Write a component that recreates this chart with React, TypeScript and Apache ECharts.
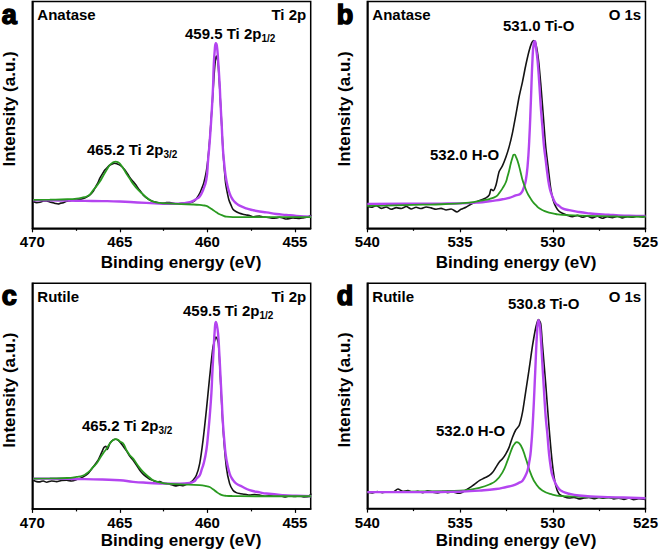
import React, { useEffect, useRef } from "react";
import * as echarts from "echarts";

// ---------- tick labels ----------
const tiTicks = [470, 465, 460, 455];
const tiMinorTicks = [467.5, 462.5, 457.5];
const oTicks = [540, 535, 530, 525];
const oMinorTicks = [537.5, 532.5, 527.5];

// ---------- panel texts ----------
const panelLetters = ["a", "b", "c", "d"];
const phases = ["Anatase", "Anatase", "Rutile", "Rutile"];
const regions = ["Ti 2p", "O 1s", "Ti 2p", "O 1s"];
const xAxisName = "Binding energy (eV)";
const yAxisName = "Intensity (a.u.)";

// ---------- panel a : Anatase Ti 2p ----------
const blackA = [
  [469.94, 11.8], [469.75, 11.3], [469.56, 11.5], [469.37, 12.0], [469.18, 12.1], [469.0, 11.6], [468.8, 11.3], [468.66, 10.9],
  [468.52, 10.7], [468.37, 11.1], [468.23, 11.3], [468.04, 11.9], [467.85, 12.1], [467.66, 12.4], [467.47, 12.5], [467.28, 12.7],
  [467.09, 13.1], [466.9, 13.8], [466.71, 14.7], [466.52, 16.3], [466.43, 17.6], [466.24, 20.3], [466.14, 22.1], [465.95, 24.6],
  [465.86, 25.7], [465.67, 27.2], [465.57, 27.9], [465.4, 28.5], [465.29, 28.7], [465.15, 28.4], [465.0, 27.9], [464.85, 26.9],
  [464.71, 25.7], [464.52, 23.5], [464.43, 22.4], [464.24, 20.6], [464.1, 19.3], [463.95, 17.6], [463.8, 16.1], [463.67, 14.7],
  [463.48, 13.4], [463.29, 12.5], [463.1, 11.8], [462.91, 11.5], [462.72, 11.2], [462.53, 11.0], [462.34, 11.3], [462.15, 11.3],
  [461.96, 11.0], [461.77, 10.7], [461.58, 10.9], [461.39, 11.0], [461.2, 11.1], [461.01, 11.3], [460.82, 11.7], [460.72, 12.2],
  [460.63, 13.0], [460.44, 15.4], [460.34, 17.2], [460.21, 19.9], [460.1, 23.5], [460.02, 27.2], [459.95, 32.0], [459.87, 39.0],
  [459.79, 47.5], [459.71, 56.6], [459.64, 65.0], [459.58, 71.3], [459.52, 75.2], [459.49, 76.0], [459.44, 75.2], [459.39, 72.8],
  [459.33, 66.0], [459.26, 56.6], [459.18, 45.0], [459.11, 34.6], [459.03, 26.0], [458.96, 19.9], [458.86, 15.5], [458.77, 12.5],
  [458.65, 10.2], [458.54, 8.4], [458.35, 7.3], [458.16, 6.6], [457.97, 6.2], [457.78, 5.9], [457.59, 5.6], [457.4, 5.1],
  [457.21, 5.3], [457.02, 5.4], [456.83, 5.0], [456.63, 4.9], [456.44, 4.7], [456.25, 4.4], [456.06, 4.6], [455.87, 4.9],
  [455.68, 4.5], [455.49, 4.1], [455.3, 4.3], [455.11, 4.6], [454.92, 4.4], [454.73, 4.3], [454.54, 4.6], [454.35, 4.9],
  [454.2, 5.2], [454.07, 5.9],
];
const purpleA = [
  [469.94, 12.4], [469.0, 12.3], [468.0, 12.2], [467.0, 12.1], [466.0, 12.0], [465.0, 11.8], [464.0, 11.4], [463.0, 11.0],
  [462.34, 10.8], [461.77, 10.8], [461.39, 11.0], [461.01, 11.5], [460.82, 12.1], [460.63, 12.9], [460.44, 14.0], [460.25, 16.8],
  [460.06, 21.5], [459.96, 30.1], [459.87, 38.0], [459.77, 49.3], [459.68, 62.0], [459.64, 71.3], [459.58, 78.5], [459.52, 81.6],
  [459.46, 80.5], [459.39, 74.3], [459.3, 63.5], [459.26, 56.6], [459.18, 45.0], [459.11, 34.6], [459.02, 27.0], [458.92, 21.3],
  [458.73, 15.4], [458.54, 12.5], [458.35, 11.0], [458.16, 10.0], [457.78, 8.8], [457.4, 8.0], [457.02, 7.4], [456.63, 7.0],
  [456.06, 6.3], [455.49, 5.9], [454.92, 5.5], [454.07, 5.1],
];
const greenA = [
  [469.94, 12.5], [469.0, 12.6], [468.0, 12.8], [467.47, 13.1], [467.1, 13.6], [466.9, 14.0], [466.7, 15.0], [466.52, 16.9],
  [466.33, 18.6], [466.14, 20.6], [465.95, 23.2], [465.76, 25.7], [465.57, 27.9], [465.4, 29.0], [465.23, 29.4], [465.1, 29.1],
  [465.0, 28.5], [464.81, 26.5], [464.62, 24.0], [464.43, 21.8], [464.24, 19.6], [463.95, 16.9], [463.67, 14.9], [463.48, 13.6],
  [463.29, 12.5], [463.1, 11.8], [462.72, 11.2], [462.34, 11.0], [461.5, 10.7], [460.82, 10.5], [460.44, 10.3], [460.25, 10.1],
  [460.06, 9.9], [459.87, 9.1], [459.68, 8.1], [459.49, 7.1], [459.3, 6.2], [459.11, 5.6], [458.92, 5.1], [458.54, 4.9],
  [457.5, 4.9], [456.5, 4.9], [455.5, 4.9], [454.07, 4.9],
];

// ---------- panel b : Anatase O 1s ----------
const blackB = [
  [540.0, 9.6], [539.78, 9.3], [539.52, 10.0], [539.25, 8.8], [538.98, 9.4], [538.71, 8.4], [538.44, 9.1], [538.17, 8.7],
  [537.9, 9.6], [537.63, 8.5], [537.37, 9.3], [537.1, 8.7], [536.83, 9.4], [536.56, 9.0], [536.29, 8.4], [536.02, 8.8],
  [535.75, 8.1], [535.48, 8.5], [535.16, 7.2], [534.95, 8.4], [534.68, 9.3], [534.41, 10.6], [534.14, 11.6], [533.87, 12.5],
  [533.6, 13.4], [533.42, 14.7], [533.33, 17.2], [533.21, 16.6], [533.06, 19.1], [532.89, 25.0], [532.71, 27.6], [532.53, 31.3],
  [532.35, 36.0], [532.17, 42.2], [531.99, 50.0], [531.81, 58.1], [531.63, 64.7], [531.45, 72.1], [531.27, 78.4], [531.13, 81.9],
  [531.02, 82.8], [530.91, 81.3], [530.77, 74.3], [530.65, 64.0], [530.52, 50.7], [530.38, 36.0], [530.23, 25.7], [530.11, 17.6],
  [529.98, 12.5], [529.84, 9.6], [529.66, 7.5], [529.48, 6.6], [529.21, 5.7], [528.94, 5.1], [528.67, 5.7], [528.41, 4.9],
  [528.14, 5.4], [527.87, 4.6], [527.6, 5.3], [527.33, 4.4], [527.06, 5.1], [526.79, 4.7], [526.52, 5.3], [526.25, 4.6],
  [525.99, 5.1], [525.72, 4.9], [525.45, 5.4], [525.18, 5.0], [525.0, 5.4],
];
const purpleB = [
  [540, 10.7], [538, 10.8], [536, 10.9], [535, 11.0], [534, 11.4], [533.42, 11.9], [533.06, 12.3], [532.71, 12.8],
  [532.35, 13.4], [532.0, 14.5], [531.72, 15.4], [531.54, 18.5], [531.45, 21.3], [531.36, 27.2], [531.27, 38.4], [531.18, 56.0],
  [531.09, 75.0], [531.02, 81.9], [530.96, 82.5], [530.91, 80.0], [530.82, 74.0], [530.73, 64.3], [530.65, 54.0], [530.56, 45.0],
  [530.47, 36.0], [530.38, 30.1], [530.29, 24.0], [530.2, 19.1], [530.11, 16.0], [530.02, 14.0], [529.84, 11.0], [529.66, 9.9],
  [529.48, 8.8], [529.12, 8.0], [528.58, 7.2], [528.05, 6.6], [527.69, 6.3], [527.0, 6.0], [526.43, 5.7], [525.5, 5.5],
  [525, 5.4],
];
const greenB = [
  [540, 9.9], [539, 10.0], [538, 10.2], [537, 10.4], [536, 10.6], [535, 11.0], [534.5, 11.3], [534.14, 11.8],
  [533.78, 12.3], [533.42, 12.9], [533.06, 14.0], [532.89, 15.5], [532.71, 17.6], [532.53, 20.3], [532.44, 22.8], [532.35, 25.5],
  [532.26, 28.7], [532.17, 31.2], [532.11, 32.4], [532.05, 32.5], [531.99, 31.6], [531.9, 29.8], [531.81, 27.2], [531.72, 24.3],
  [531.63, 21.3], [531.5, 18.2], [531.36, 15.4], [531.2, 13.2], [531.09, 11.8], [530.91, 10.2], [530.73, 8.8], [530.47, 7.7],
  [530.2, 6.9], [529.84, 6.3], [529.48, 5.9], [528.5, 5.6], [527.69, 5.4], [526.5, 5.2], [525, 5.1],
];

// ---------- panel c : Rutile Ti 2p ----------
const blackC = [
  [469.94, 12.7], [469.75, 12.1], [469.56, 12.0], [469.37, 12.4], [469.18, 11.8], [468.9, 12.4], [468.61, 12.1], [468.33, 12.6],
  [468.04, 12.7], [467.76, 12.4], [467.47, 13.0], [467.09, 14.2], [466.81, 15.7], [466.52, 18.6], [466.24, 21.6], [466.05, 24.8],
  [465.91, 27.2], [465.8, 27.8], [465.72, 26.3], [465.57, 29.0], [465.42, 30.4], [465.23, 30.9], [465.15, 30.7], [465.0, 29.7],
  [464.81, 27.8], [464.62, 25.7], [464.43, 23.3], [464.24, 21.6], [464.05, 19.4], [463.86, 17.1], [463.67, 15.4], [463.48, 14.2],
  [463.29, 13.1], [463.1, 12.6], [462.91, 12.0], [462.72, 12.1], [462.53, 11.5], [462.34, 11.2], [462.15, 10.9], [461.96, 10.5],
  [461.77, 10.2], [461.58, 10.5], [461.39, 10.3], [461.2, 10.9], [461.01, 11.5], [460.82, 12.7], [460.63, 14.9], [460.44, 20.1],
  [460.25, 30.4], [460.06, 43.7], [459.87, 58.5], [459.68, 71.8], [459.58, 74.7], [459.52, 76.2], [459.45, 75.5], [459.37, 73.3],
  [459.26, 58.5], [459.11, 36.3], [458.92, 18.6], [458.73, 11.2], [458.54, 8.3], [458.35, 7.2], [458.16, 6.8], [457.87, 6.5],
  [457.59, 6.1], [457.3, 6.4], [457.02, 6.1], [456.73, 5.6], [456.44, 5.9], [456.16, 5.6], [455.87, 5.9], [455.59, 5.3],
  [455.3, 5.8], [455.02, 5.5], [454.73, 5.8], [454.45, 5.3], [454.2, 5.6], [454.07, 6.8],
];
const purpleC = [
  [469.94, 13.4], [469.0, 13.4], [468.0, 13.3], [467.0, 13.2], [466.0, 13.0], [465.0, 12.7], [464.24, 12.0], [463.5, 11.6],
  [462.34, 11.2], [461.58, 11.2], [461.01, 11.5], [460.72, 12.4], [460.63, 13.4], [460.44, 14.9], [460.34, 17.1], [460.2, 20.5],
  [460.06, 26.0], [459.96, 33.0], [459.87, 40.8], [459.77, 51.5], [459.71, 61.4], [459.64, 71.0], [459.58, 79.2], [459.52, 82.9],
  [459.46, 81.5], [459.39, 77.7], [459.32, 69.0], [459.26, 60.0], [459.18, 48.0], [459.11, 37.8], [459.02, 29.0], [458.92, 22.3],
  [458.73, 15.7], [458.54, 12.8], [458.35, 11.2], [458.0, 9.8], [457.59, 8.3], [457.0, 7.3], [456.63, 6.8], [455.68, 6.1],
  [454.9, 5.8], [454.07, 5.6],
];
const greenC = [
  [469.94, 13.4], [469.0, 13.5], [468.0, 13.7], [467.47, 14.2], [467.1, 14.8], [466.9, 15.7], [466.7, 17.0], [466.52, 18.6],
  [466.33, 20.1], [466.14, 22.5], [465.95, 24.7], [465.76, 26.7], [465.57, 29.0], [465.4, 30.4], [465.23, 30.9], [465.1, 30.6],
  [465.0, 29.9], [464.81, 29.0], [464.62, 26.0], [464.43, 23.8], [464.24, 22.3], [463.95, 19.0], [463.67, 16.4], [463.29, 13.8],
  [463.1, 12.7], [462.72, 11.8], [462.34, 11.2], [461.5, 10.9], [460.44, 10.5], [460.06, 10.1], [459.87, 9.7], [459.68, 8.7],
  [459.49, 7.6], [459.3, 6.6], [459.11, 6.0], [458.92, 5.8], [458.54, 5.7], [457.0, 5.6], [455.5, 5.6], [454.07, 5.6],
];

// ---------- panel d : Rutile O 1s ----------
const blackD = [
  [540.0, 7.3], [539.73, 7.0], [539.46, 7.6], [539.19, 7.1], [538.92, 7.4], [538.62, 7.3], [538.35, 8.7], [538.08, 7.7],
  [537.81, 8.0], [537.54, 7.3], [537.28, 7.7], [537.01, 7.1], [536.74, 7.9], [536.47, 7.3], [536.2, 7.0], [535.93, 7.6],
  [535.66, 7.1], [535.39, 7.4], [535.13, 6.8], [534.86, 7.3], [534.68, 8.3], [534.5, 9.2], [534.32, 10.2], [534.14, 11.3],
  [533.96, 12.4], [533.78, 13.2], [533.6, 13.9], [533.42, 14.7], [533.24, 16.1], [533.06, 18.4], [532.89, 20.6], [532.71, 22.1],
  [532.53, 24.3], [532.35, 27.3], [532.17, 31.7], [531.99, 35.0], [531.81, 36.9], [531.63, 42.8], [531.45, 52.4], [531.27, 62.1],
  [531.09, 72.4], [530.91, 80.6], [530.77, 83.9], [530.65, 82.1], [530.56, 73.2], [530.38, 55.4], [530.2, 36.1], [530.02, 19.9],
  [529.84, 10.2], [529.66, 6.5], [529.39, 5.3], [529.12, 4.7], [528.85, 5.0], [528.58, 4.3], [528.32, 4.7], [528.05, 5.0],
  [527.78, 4.4], [527.51, 4.9], [527.24, 4.6], [526.97, 5.0], [526.7, 4.3], [526.43, 4.6], [526.16, 4.1], [525.9, 4.7],
  [525.63, 4.0], [525.36, 4.4], [525.0, 4.1],
];
const purpleD = [
  [540, 7.3], [538, 7.3], [536, 7.4], [535, 7.5], [534.86, 7.6], [533.96, 8.0], [533.06, 8.7], [532.5, 9.6],
  [532.17, 10.2], [531.8, 11.5], [531.63, 12.4], [531.45, 15.0], [531.36, 16.9], [531.27, 20.5], [531.18, 25.8], [531.06, 40.6],
  [530.95, 59.9], [530.84, 79.1], [530.77, 83.6], [530.7, 81.5], [530.66, 78.0], [530.56, 64.3], [530.47, 52.0], [530.38, 40.6],
  [530.29, 33.0], [530.2, 24.3], [530.11, 18.5], [530.02, 14.7], [529.84, 11.0], [529.66, 8.7], [529.48, 7.6], [529.12, 6.6],
  [528.58, 5.8], [527.69, 5.3], [526.61, 5.0], [525.8, 4.8], [525, 4.6],
];
const greenD = [
  [540, 7.3], [538, 7.5], [536, 7.8], [535, 8.0], [534.5, 8.4], [533.96, 9.2], [533.42, 10.7], [533.06, 12.4],
  [532.71, 16.1], [532.44, 21.3], [532.17, 27.3], [532.05, 28.8], [531.94, 29.5], [531.72, 28.0], [531.45, 22.1], [531.18, 15.4],
  [530.91, 11.0], [530.56, 8.0], [530.02, 6.2], [529.48, 5.5], [527.69, 5.0], [525, 4.7],
];

// ---------- annotations ----------
const peakLabels = [
  [["459.5 Ti 2p", "1/2"], ["465.2 Ti 2p", "3/2"]],
  [["531.0 Ti-O", ""], ["532.0 H-O", ""]],
  [["459.5 Ti 2p", "1/2"], ["465.2 Ti 2p", "3/2"]],
  [["530.8 Ti-O", ""], ["532.0 H-O", ""]],
];

// ---------- layout / style (not data) ----------
const FONT = "'Liberation Sans', Arial, Helvetica, sans-serif";
const BLACK = "#141414";
const PURPLE = "#b445f0";
const GREEN = "#2a9a20";

const gridBoxes = [
  { left: 32.3, top: 1.5, width: 278.4, height: 226.8 },
  { left: 367.3, top: 1.5, width: 278.4, height: 226.8 },
  { left: 32.3, top: 283.3, width: 278.4, height: 225.6 },
  { left: 367.3, top: 283.3, width: 278.4, height: 225.3 },
];
const labelPos = [
  [[185, 33], [87, 149]],
  [[503, 25], [430, 154]],
  [[183, 310], [82, 425]],
  [[508, 303], [436, 430]],
];

function buildOption() {
  const panelSeries = [
    [
      { d: blackA, c: BLACK, w: 1.6, s: 0.25 },
      { d: purpleA, c: PURPLE, w: 2.4, s: 0.5 },
      { d: greenA, c: GREEN, w: 1.8, s: 0.5 },
    ],
    [
      { d: blackB, c: BLACK, w: 1.6, s: 0.25 },
      { d: purpleB, c: PURPLE, w: 2.4, s: 0.5 },
      { d: greenB, c: GREEN, w: 1.8, s: 0.5 },
    ],
    [
      { d: blackC, c: BLACK, w: 1.6, s: 0.25 },
      { d: purpleC, c: PURPLE, w: 2.4, s: 0.5 },
      { d: greenC, c: GREEN, w: 1.8, s: 0.5 },
    ],
    [
      { d: blackD, c: BLACK, w: 1.6, s: 0.25 },
      { d: greenD, c: GREEN, w: 1.8, s: 0.5 },
      { d: purpleD, c: PURPLE, w: 2.4, s: 0.5 },
    ],
  ];
  const isTi = [true, false, true, false];

  const grid: any[] = [];
  const xAxis: any[] = [];
  const yAxis: any[] = [];
  const series: any[] = [];
  const graphic: any[] = [];

  const tstyle = (extra: any) => ({
    fill: "#000",
    fontFamily: FONT,
    fontWeight: "bold",
    ...extra,
  });

  for (let i = 0; i < 4; i++) {
    const g = gridBoxes[i];
    grid.push({
      ...g,
      show: true,
      borderColor: "#000",
      borderWidth: 1.5,
      backgroundColor: "transparent",
    });
    const ti = isTi[i];
    const min = ti ? 454.1 : 525;
    const max = ti ? 470 : 540;
    const ticks = ti ? tiTicks : oTicks;
    const minor = ti ? tiMinorTicks : oMinorTicks;
    xAxis.push({
      type: "value",
      gridIndex: i,
      min,
      max,
      inverse: true,
      position: "bottom",
      axisLine: { show: true, onZero: false, lineStyle: { color: "#000", width: 1.5 } },
      axisTick: { show: true, length: 4, customValues: ticks, lineStyle: { color: "#000", width: 1.2 } },
      axisLabel: {
        show: true,
        customValues: ticks,
        margin: 6,
        color: "#000",
        fontSize: 15,
        fontWeight: "bold",
        fontFamily: FONT,
      },
      splitLine: { show: false },
    });
    xAxis.push({
      type: "value",
      gridIndex: i,
      min,
      max,
      inverse: true,
      position: "bottom",
      axisLine: { show: false, onZero: false },
      axisTick: { show: true, length: 2.5, customValues: minor, lineStyle: { color: "#000", width: 1.2 } },
      axisLabel: { show: false },
      splitLine: { show: false },
    });
    yAxis.push({
      type: "value",
      gridIndex: i,
      min: 0,
      max: 100,
      axisLine: { show: true, lineStyle: { color: "#000", width: 1.5 } },
      axisTick: { show: false },
      axisLabel: { show: false },
      splitLine: { show: false },
    });
    panelSeries[i].forEach((s, k) => {
      series.push({
        type: "line",
        xAxisIndex: 2 * i,
        yAxisIndex: i,
        data: s.d,
        showSymbol: false,
        symbol: "none",
        smooth: s.s,
        silent: true,
        z: 2 + k,
        lineStyle: { color: s.c, width: s.w },
      });
    });

    const right = g.left + g.width;
    const cx = g.left + g.width / 2;
    const bottom = g.top + g.height;
    // panel letter
    graphic.push({
      type: "text",
      x: g.left - 30.5,
      y: g.top + 13,
      z: 100,
      silent: true,
      style: tstyle({
        text: panelLetters[i],
        fontSize: 27,
        fontWeight: 900,
        align: "left",
        textAlign: "left",
        verticalAlign: "middle",
        textVerticalAlign: "middle",
        stroke: "#000",
        lineWidth: 1.5,
      }),
    });
    // phase
    graphic.push({
      type: "text",
      x: g.left + 5,
      y: g.top + 13,
      z: 100,
      silent: true,
      style: tstyle({
        text: phases[i],
        fontSize: 15,
        align: "left",
        textAlign: "left",
        verticalAlign: "middle",
        textVerticalAlign: "middle",
      }),
    });
    // region
    graphic.push({
      type: "text",
      x: right - 4.5,
      y: g.top + 13,
      z: 100,
      silent: true,
      style: tstyle({
        text: regions[i],
        fontSize: 15,
        align: "right",
        textAlign: "right",
        verticalAlign: "middle",
        textVerticalAlign: "middle",
      }),
    });
    // x axis name
    graphic.push({
      type: "text",
      x: cx + 9.5,
      y: bottom + (i < 2 ? 34 : 31.5),
      z: 100,
      silent: true,
      style: tstyle({
        text: xAxisName,
        fontSize: 17,
        align: "center",
        textAlign: "center",
        verticalAlign: "middle",
        textVerticalAlign: "middle",
      }),
    });
    // y axis name
    graphic.push({
      type: "text",
      x: g.left - 23,
      y: g.top + g.height / 2 - 6,
      rotation: Math.PI / 2,
      z: 100,
      silent: true,
      style: tstyle({
        text: yAxisName,
        fontSize: 17,
        align: "center",
        textAlign: "center",
        verticalAlign: "middle",
        textVerticalAlign: "middle",
      }),
    });
    // peak annotations
    peakLabels[i].forEach((lab, k) => {
      const [px, py] = labelPos[i][k];
      const text = lab[1] ? `{m|${lab[0]}}{s|${lab[1]}}` : `{m|${lab[0]}}`;
      graphic.push({
        type: "text",
        x: px,
        y: py,
        z: 100,
        silent: true,
        style: tstyle({
          text,
          align: "left",
          textAlign: "left",
          verticalAlign: "middle",
          textVerticalAlign: "middle",
          rich: {
            m: { fontSize: 15, fontWeight: "bold", fontFamily: FONT, color: "#000", lineHeight: 20 },
            s: {
              fontSize: 10,
              fontWeight: "bold",
              fontFamily: FONT,
              color: "#000",
              lineHeight: 10,
              verticalAlign: "bottom",
            },
          },
        }),
      });
    });
  }

  return {
    animation: false,
    backgroundColor: "#fff",
    grid,
    xAxis,
    yAxis,
    series,
    graphic,
  };
}

export default function App() {
  const ref = useRef<HTMLDivElement>(null);
  useEffect(() => {
    if (!ref.current) return;
    const chart = echarts.init(ref.current, null, { renderer: "svg" });
    chart.setOption(buildOption() as any);
    return () => chart.dispose();
  }, []);
  return (
    <div
      ref={ref}
      style={{ position: "absolute", left: 0, top: 0, width: 661, height: 554, background: "#fff" }}
    />
  );
}
